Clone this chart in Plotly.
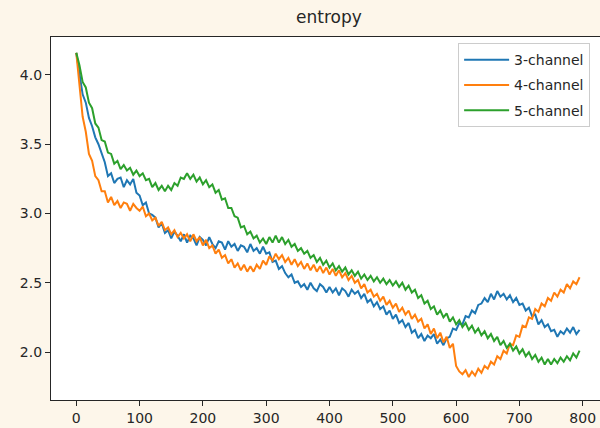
import plotly.graph_objects as go

steps = list(range(0, 800, 5))

ch3 = [4.16, 4.01, 3.86, 3.80, 3.69, 3.63, 3.55, 3.50, 3.43, 3.37,
       3.27, 3.29, 3.22, 3.25, 3.26, 3.19, 3.24, 3.21, 3.25, 3.15,
       3.13, 3.06, 3.08, 3.00, 2.99, 2.97, 2.90, 2.93, 2.86, 2.88,
       2.82, 2.87, 2.84, 2.80, 2.85, 2.79, 2.84, 2.82, 2.77, 2.83,
       2.81, 2.77, 2.83, 2.78, 2.75, 2.80, 2.79, 2.74, 2.80, 2.76,
       2.78, 2.73, 2.77, 2.76, 2.72, 2.78, 2.73, 2.75, 2.71, 2.76,
       2.71, 2.72, 2.65, 2.66, 2.60, 2.62, 2.57, 2.54, 2.56, 2.50,
       2.51, 2.47, 2.49, 2.45, 2.50, 2.46, 2.44, 2.49, 2.47, 2.43,
       2.47, 2.43, 2.46, 2.41, 2.46, 2.44, 2.40, 2.45, 2.42, 2.44,
       2.39, 2.42, 2.36, 2.38, 2.33, 2.36, 2.31, 2.33, 2.27, 2.30,
       2.24, 2.27, 2.21, 2.23, 2.18, 2.21, 2.14, 2.16, 2.10, 2.13,
       2.08, 2.12, 2.10, 2.13, 2.06, 2.09, 2.05, 2.10, 2.11, 2.17,
       2.16, 2.21, 2.20, 2.26, 2.25, 2.30, 2.28, 2.34, 2.35, 2.39,
       2.36, 2.42, 2.38, 2.44, 2.40, 2.42, 2.38, 2.41, 2.36, 2.39,
       2.34, 2.35, 2.30, 2.32, 2.26, 2.27, 2.20, 2.23, 2.18, 2.20,
       2.15, 2.16, 2.11, 2.15, 2.13, 2.17, 2.14, 2.18, 2.13, 2.16]

ch4 = [4.16, 3.92, 3.70, 3.59, 3.43, 3.38, 3.27, 3.24, 3.16, 3.16,
       3.08, 3.12, 3.06, 3.09, 3.04, 3.08, 3.07, 3.02, 3.07, 3.04,
       3.02, 3.05, 2.98, 3.00, 2.95, 2.97, 2.91, 2.94, 2.88, 2.90,
       2.85, 2.88, 2.83, 2.86, 2.82, 2.85, 2.80, 2.85, 2.80, 2.83,
       2.77, 2.81, 2.75, 2.77, 2.71, 2.74, 2.68, 2.70, 2.64, 2.67,
       2.61, 2.64, 2.59, 2.63, 2.58, 2.62, 2.58, 2.63, 2.60, 2.66,
       2.63, 2.69, 2.66, 2.71, 2.67, 2.70, 2.65, 2.68, 2.63, 2.67,
       2.62, 2.65, 2.60, 2.64, 2.59, 2.63, 2.58, 2.62, 2.57, 2.61,
       2.56, 2.60, 2.55, 2.59, 2.54, 2.57, 2.52, 2.55, 2.50, 2.52,
       2.46, 2.49, 2.43, 2.45, 2.40, 2.42, 2.37, 2.40, 2.34, 2.37,
       2.32, 2.35, 2.29, 2.32, 2.27, 2.30, 2.24, 2.27, 2.22, 2.24,
       2.17, 2.20, 2.13, 2.17, 2.10, 2.14, 2.07, 2.11, 2.03, 2.06,
       1.90, 1.86, 1.84, 1.87, 1.82, 1.86, 1.83, 1.88, 1.85, 1.90,
       1.88, 1.93, 1.91, 1.97, 1.95, 2.01, 1.99, 2.06, 2.05, 2.12,
       2.11, 2.19, 2.18, 2.25, 2.24, 2.31, 2.29, 2.35, 2.33, 2.39,
       2.37, 2.43, 2.40, 2.45, 2.43, 2.49, 2.46, 2.51, 2.49, 2.54]

ch5 = [4.16, 4.07, 3.95, 3.91, 3.80, 3.76, 3.65, 3.62, 3.53, 3.52,
       3.44, 3.43, 3.36, 3.38, 3.32, 3.35, 3.31, 3.33, 3.28, 3.31,
       3.27, 3.29, 3.24, 3.25, 3.19, 3.22, 3.17, 3.20, 3.16, 3.20,
       3.17, 3.22, 3.20, 3.26, 3.25, 3.29, 3.25, 3.28, 3.23, 3.26,
       3.21, 3.24, 3.19, 3.21, 3.15, 3.17, 3.10, 3.11, 3.04, 3.04,
       2.98, 2.97, 2.90, 2.91, 2.85, 2.87, 2.82, 2.84, 2.79, 2.82,
       2.78, 2.83, 2.79, 2.84, 2.79, 2.83, 2.78, 2.81, 2.76, 2.78,
       2.73, 2.75, 2.71, 2.73, 2.68, 2.70, 2.65, 2.68, 2.63, 2.66,
       2.61, 2.64, 2.59, 2.62, 2.58, 2.61, 2.56, 2.59, 2.55, 2.58,
       2.53, 2.56, 2.52, 2.55, 2.51, 2.54, 2.50, 2.53, 2.49, 2.52,
       2.48, 2.51, 2.47, 2.50, 2.45, 2.48, 2.43, 2.45, 2.39, 2.41,
       2.35, 2.37, 2.31, 2.33, 2.27, 2.30, 2.25, 2.28, 2.22, 2.25,
       2.20, 2.23, 2.18, 2.21, 2.16, 2.19, 2.14, 2.17, 2.12, 2.15,
       2.10, 2.13, 2.08, 2.11, 2.05, 2.08, 2.03, 2.06, 2.01, 2.04,
       1.99, 2.02, 1.97, 2.00, 1.95, 1.98, 1.93, 1.96, 1.91, 1.95,
       1.91, 1.95, 1.92, 1.96, 1.93, 1.97, 1.94, 1.99, 1.96, 2.01]

series_names = ["3-channel", "4-channel", "5-channel"]
series_values = [ch3, ch4, ch5]
colors = ["#1f77b4", "#ff7f0e", "#2ca02c"]

xticks = [0, 100, 200, 300, 400, 500, 600, 700, 800]
yticks = [2.0, 2.5, 3.0, 3.5, 4.0]

font_family = "DejaVu Sans"
text_color = "#262626"
axis_color = "#262626"

fig = go.Figure()
for name, vals, col in zip(series_names, series_values, colors):
    fig.add_trace(go.Scatter(x=steps, y=vals, mode="lines", name=name,
                             legendgroup=name,
                             line=dict(color=col, width=2)))

fig.update_layout(
    template="none",
    width=600, height=428,
    margin=dict(l=51, r=0, t=37, b=28, pad=0),
    paper_bgcolor="#fdf6ea",
    plot_bgcolor="#ffffff",
    font=dict(family=font_family, size=14, color=text_color),
    showlegend=True,
    legend=dict(x=0.982, y=0.983, xanchor="right", yanchor="top",
                bgcolor="rgba(255,255,255,0.8)", bordercolor="#cccccc",
                borderwidth=1, font=dict(size=14), tracegroupgap=4,
                itemwidth=45),
    xaxis=dict(range=[-39.95, 827.3], tickvals=xticks, ticks="outside",
               ticklen=5, tickwidth=1, tickcolor=axis_color,
               automargin=False,
               showgrid=False, zeroline=False, showline=True,
               linecolor=axis_color, linewidth=1.2, mirror=True),
    yaxis=dict(range=[1.654, 4.274], tickvals=yticks, tickformat=".1f",
               ticks="outside", ticklen=5, tickwidth=1, tickcolor=axis_color,
               automargin=False,
               showgrid=False, zeroline=False, showline=True,
               linecolor=axis_color, linewidth=1.2, mirror=False),
)

fig.add_annotation(text="entropy", x=399.5, xref="x", y=1, yref="paper",
                   yanchor="bottom", yshift=8, showarrow=False,
                   font=dict(size=17, color=text_color, family=font_family))

fig.write_html("out.html",
               config={"displayModeBar": False},
               post_script="document.body.style.margin='0px';"
                           "document.body.style.overflow='hidden';")
